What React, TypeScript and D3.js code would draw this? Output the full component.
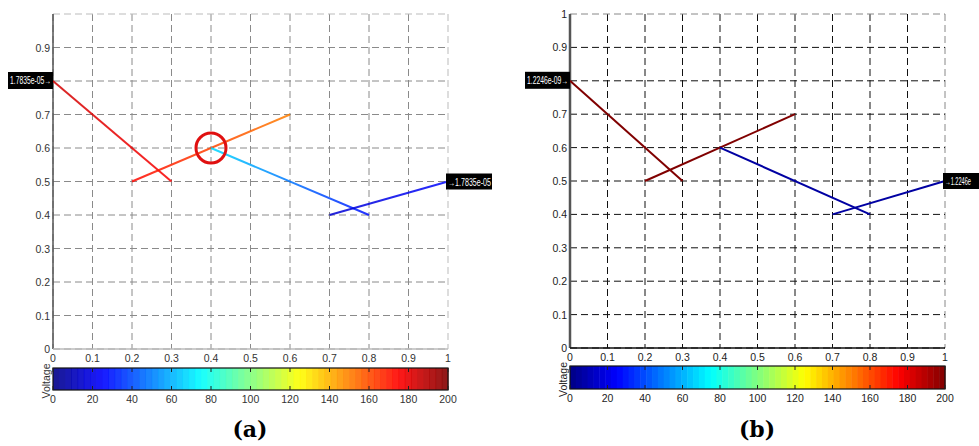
import React, { useEffect } from "react";
import * as d3 from "d3";

// axis ticks for both panels
const xTicks = [0, 0.1, 0.2, 0.3, 0.4, 0.5, 0.6, 0.7, 0.8, 0.9, 1];
const yTicks = [0, 0.1, 0.2, 0.3, 0.4, 0.5, 0.6, 0.7, 0.8, 0.9, 1];
const cbTicks = [0, 20, 40, 60, 80, 100, 120, 140, 160, 180, 200];

// the four wire segments, [x, y] end points
const segStart = [[0, 0.8], [0.2, 0.5], [0.4, 0.6], [0.7, 0.4]];
const segEnd = [[0.3, 0.5], [0.6, 0.7], [0.8, 0.4], [1, 0.5]];

// voltage at each segment end, panel (a) and panel (b)
const voltStartA = [184, 174, 68, 16];
const voltEndA = [176, 150, 28, 26];
const voltStartB = [200, 200, 6, 6];
const voltEndB = [200, 200, 6, 6];

// the 0.8 tick label sits under the left tag in the reference
const hiddenY = [0.8];

const labelsA = { left: "1.7835e-05\u2192", right: "\u21921.7835e-05" };
const labelsB = { left: "1.2246e-09\u2192", right: "\u21921.2246e" };

const jet = d3
  .scaleLinear<string>()
  .domain([0, 25, 75, 125, 175, 200])
  .range(["#000084", "#0000ff", "#00ffff", "#ffff00", "#ff0000", "#800000"])
  .interpolate(d3.interpolateRgb);

const SANS = "Liberation Sans";
const SERIF = "DejaVu Serif";

function Panel(props) {
  const p = props.cfg;
  const x = d3.scaleLinear().domain([0, 1]).range([p.x0, p.x1]);
  const y = d3.scaleLinear().domain([0, 1]).range([p.yBot, p.yTop]);
  const cb = d3.scaleLinear().domain([0, 200]).range([p.x0, p.x1]);
  const steps = d3.range(64);
  const stepW = (p.x1 - p.x0) / 64;

  return (
    <g>
      {/* grid */}
      {xTicks.map((t, i) => (
        <line key={"gx" + i} x1={x(t)} x2={x(t)} y1={p.yTop} y2={p.yBot}
          stroke={i == xTicks.length - 1 ? p.edgeColor : p.gridColor}
          strokeDasharray="7,4" strokeWidth={1} />
      ))}
      {yTicks.map((t, i) => (
        <line key={"gy" + i} x1={p.x0} x2={p.x1} y1={y(t)} y2={y(t)}
          stroke={i == yTicks.length - 1 ? p.edgeColor : p.gridColor}
          strokeDasharray="7,4" strokeWidth={1} />
      ))}
      {/* axes */}
      <line x1={p.x0} x2={p.x0} y1={p.yTop} y2={p.yBot} stroke={p.axisColor} strokeWidth={p.axisW} />
      <line x1={p.x0} x2={p.x1} y1={p.yBot} y2={p.yBot} stroke={p.bottomColor} strokeWidth={1.5} />
      {xTicks.map((t, i) => (
        <text key={"xl" + i} x={x(t)} y={p.yBot + 13} textAnchor="middle"
          fontFamily={SANS} fontSize={10.5} fill={p.textColor}>{t}</text>
      ))}
      {yTicks.filter((t) => (p.showTop || t < 1) && hiddenY.indexOf(t) === -1).map((t, i) => (
        <text key={"yl" + i} x={p.x0 - 3} y={y(t) + 4} textAnchor="end"
          fontFamily={SANS} fontSize={10.5} fill={p.textColor}>{t}</text>
      ))}

      {/* wires */}
      <defs>
        {segStart.map((s, i) => (
          <linearGradient key={"lg" + i} id={p.id + "g" + i} gradientUnits="userSpaceOnUse"
            x1={x(s[0])} y1={y(s[1])} x2={x(segEnd[i][0])} y2={y(segEnd[i][1])}>
            <stop offset="0" stopColor={jet(p.vStart[i])} />
            <stop offset="1" stopColor={jet(p.vEnd[i])} />
          </linearGradient>
        ))}
      </defs>
      {segStart.map((s, i) => (
        <line key={"w" + i} x1={x(s[0])} y1={y(s[1])} x2={x(segEnd[i][0])} y2={y(segEnd[i][1])}
          stroke={"url(#" + p.id + "g" + i + ")"} strokeWidth={2} opacity={p.wireOpacity} />
      ))}
      {p.circle && (
        <circle cx={x(0.4)} cy={y(0.6)} r={15} fill="none" stroke="#e01010" strokeWidth={3} />
      )}

      {/* value tags */}
      <rect x={p.x0 - 45} y={y(0.8) - 9} width={45} height={17} fill="#000" />
      <text x={p.x0 - 43} y={y(0.8) + 3} textLength={41} lengthAdjust="spacingAndGlyphs"
        fontFamily={SANS} fontSize={10} fill="#fff">
        {p.labels.left}
      </text>
      <rect x={p.x1 - 2} y={y(0.5) - 8} width={p.rightW} height={16} fill="#000" />
      <text x={p.x1} y={y(0.5) + 4} textLength={p.rightLen} lengthAdjust="spacingAndGlyphs"
        fontFamily={SANS} fontSize={10} fill="#fff">
        {p.labels.right}
      </text>

      {/* colorbar */}
      {steps.map((k) => (
        <rect key={"cb" + k} x={p.x0 + k * stepW} y={p.cbTop} width={stepW + 0.5}
          height={p.cbH} fill={jet((k + 0.5) * 200 / 64)} opacity={p.cbOpacity} />
      ))}
      <rect x={p.x0} y={p.cbTop} width={p.x1 - p.x0} height={p.cbH} fill="none" stroke="#111" strokeWidth={1.2} />
      {cbTicks.map((t, i) => (
        <g key={"ct" + i}>
          <line x1={cb(t)} x2={cb(t)} y1={p.cbTop} y2={p.cbTop + 4} stroke="#222" />
          <line x1={cb(t)} x2={cb(t)} y1={p.cbTop + p.cbH - 4} y2={p.cbTop + p.cbH} stroke="#222" />
          <text x={cb(t)} y={p.cbTop + p.cbH + 13} textAnchor="middle"
            fontFamily={SANS} fontSize={10.5} fill={p.textColor}>{t}</text>
        </g>
      ))}
      <text transform={"translate(" + (p.x0 - 3) + "," + (p.cbTop + p.cbH / 2 + 2) + ") rotate(-90)"}
        textAnchor="middle" fontFamily={SANS} fontSize={10.5} fill={p.textColor}>Voltage</text>

      <text x={p.tagX} y={437} textAnchor="middle" fontFamily={SERIF}
        fontSize={22} fontWeight="bold" fill="#000">{p.tag}</text>
    </g>
  );
}

const panelA = {
  id: "a", x0: 53, x1: 448, yTop: 14, yBot: 349, cbTop: 368, cbH: 22,
  gridColor: "#8a8a8a", edgeColor: "#bbbbbb", axisColor: "#555", axisW: 1.5, bottomColor: "#bbbbbb",
  textColor: "#333", showTop: false, vStart: voltStartA, vEnd: voltEndA, wireOpacity: 0.85,
  circle: true, labels: labelsA, rightW: 46, rightLen: 43, cbOpacity: 0.9, tag: "(a)", tagX: 250,
};
const panelB = {
  id: "b", x0: 570, x1: 945, yTop: 14, yBot: 348, cbTop: 366, cbH: 23,
  gridColor: "#111", edgeColor: "#888", axisColor: "#555", axisW: 2.5, bottomColor: "#111",
  textColor: "#222", showTop: true, vStart: voltStartB, vEnd: voltEndB, wireOpacity: 1,
  circle: false, labels: labelsB, rightW: 36, rightLen: 26, cbOpacity: 1, tag: "(b)", tagX: 757,
};

export default function App() {
  useEffect(() => {
    document.body.style.margin = "0";
  }, []);
  return (
    <svg width={979} height={446} style={{ display: "block", background: "#fff" }}>
      <Panel cfg={panelA} />
      <Panel cfg={panelB} />
    </svg>
  );
}
